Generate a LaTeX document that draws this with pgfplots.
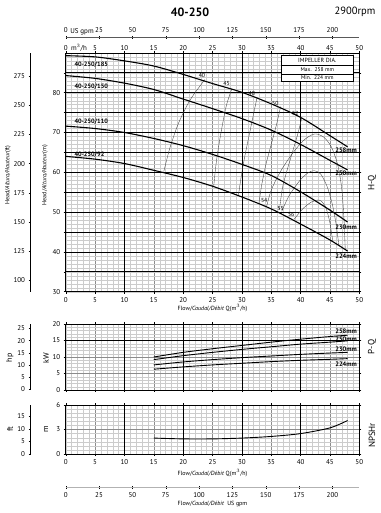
\documentclass[border=0pt]{standalone}
\usepackage{fontspec}
\setmainfont{PT Sans}
\usepackage{pgfplots}
\pgfplotsset{compat=1.18}
\definecolor{gmin}{gray}{0.80}
\definecolor{gmid}{gray}{0.55}
\definecolor{effc}{gray}{0.25}
\newcommand{\fs}[1]{\fontsize{#1}{#1}\selectfont}
\pgfplotsset{
  base/.style={scale only axis, width=293.6pt, xmin=0, xmax=50, anchor=south west,
    /pgf/number format/assume math mode=true,
    tick label style={font=\fs{7}},
    axis line style={black, line width=0.6pt},
    minor grid style={gmin, line width=0.3pt},
    major grid style={gmid, line width=0.5pt},
    grid=both,
    minor xtick={0,1,...,50},
    xtick={0,5,...,50},
    extra x ticks={10,20,30,40},
    extra x tick labels={},
    extra x tick style={grid=major, major grid style={black, line width=0.7pt}, major tick length=0pt},
    tick style={black, line width=0.4pt}, major tick length=2pt, minor tick length=0pt,
    tick align=outside, clip=true},
  sec/.style={scale only axis, anchor=south west, width=1pt, xmin=0, xmax=1,
    hide x axis, axis y line*=left, tick align=center, major tick length=3pt,
    tick style={black,line width=0.4pt}, axis line style={black,line width=0.6pt},
    tick label style={font=\fs{7}}, /pgf/number format/assume math mode=true},
  hq/.style={black, line width=1.1pt, smooth},
  pq/.style={black, line width=0.9pt, smooth},
  eff/.style={effc, line width=0.35pt, smooth},
}
\begin{document}
\begin{tikzpicture}
\useasboundingbox (0,0) rectangle (380pt,513pt);

% ---------- titles ----------
\node[font=\bfseries\fs{12}] at (190pt,501pt) {40-250};
\node[font=\fs{10.5}] at (355pt,501pt) {2900rpm};

% ---------- top gpm axis ----------
\begin{axis}[scale only axis, at={(65.7pt,475.7pt)}, anchor=north west, width=293.6pt, height=1pt,
  xmin=0, xmax=220.15, ymin=0, ymax=1, hide y axis, axis x line*=top,
  xtick={0,25,...,200}, tick align=center, major tick length=3pt,
  axis line style={gray!70!black, line width=0.6pt}, tick style={black,line width=0.4pt},
  tick label style={font=\fs{7}}, /pgf/number format/assume math mode=true]
\addplot[draw=none] coordinates {(0,0)};
\end{axis}
\node[font=\fs{7}] at (82pt,481pt) {US gpm};

% ---------- H-Q ----------
\begin{axis}[base, at={(65.7pt,221.3pt)}, height=238.8pt, ymin=30, ymax=90,
  ytick={30,40,...,80}, minor ytick={30,31,...,90},
  extra y ticks={35,40,...,85}, extra y tick labels={},
  extra y tick style={grid=major, major grid style={black, line width=0.6pt}, major tick length=2pt}]
% efficiency curves
\addplot[eff] coordinates {(23.7,83.3)(21.2,78.2)(19.2,72.3)(17.8,66.4)(17.2,63.1)(16.7,60.2)};
\addplot[eff] coordinates {(28.3,81.0)(27.4,77)(26.7,72)(26.1,67)(25.6,62)(25.2,56.4)};
\addplot[eff] coordinates {(32.6,78.9)(31.9,74)(31.2,69)(30.5,64)(29.9,59)(29.4,54.1)};
\addplot[eff] coordinates {(36.6,76.5)(35.9,72)(35.0,67)(34.1,62)(33.4,57)(32.9,52.2)};
\addplot[eff] coordinates {(40.2,73.6)(39.5,69.5)(38.6,65)(37.6,60)(36.9,56)(36.4,50.5)};
\addplot[eff] coordinates {(34.2,51.3)(35,55.5)(36.5,60)(38.5,64.5)(40.5,68)(42.3,69.6)(43.8,69)(45.2,66.5)(46.3,62)(47,56)(47.4,48)(47.6,40.6)};
\addplot[eff] coordinates {(36.8,50.2)(38,54)(39.8,57.8)(41.2,59.8)(42.3,60.4)(43.4,59.6)(44.5,56.5)(45.4,52)(46.1,46.5)(46.5,41.8)};
\addplot[eff] coordinates {(38.9,48.2)(40.3,50.7)(41.8,52.5)(43.2,53)(44.2,51.5)(44.9,48)(45.3,44.5)(45.5,42.6)};
% H-Q curves
\addplot[hq] coordinates {(0,89.3)(5,89)(10,88)(15,86.7)(20,84.6)(25,82.3)(30,80.1)(35,77.2)(40,73.8)(45,69.2)(48,66.4)};
\addplot[hq] coordinates {(0,84.3)(5,83.6)(10,82.4)(15,80.8)(20,78.4)(25,76)(30,73.5)(35,70.6)(40,67)(45,63)(48,60.6)};
\addplot[hq] coordinates {(0,71.6)(5,71)(10,70)(15,68.5)(20,66.7)(25,64.5)(30,62)(35,59.2)(40,55.1)(45,50.5)(48,47.5)};
\addplot[hq] coordinates {(0,64)(5,63.3)(10,62.2)(15,60.5)(20,58.7)(25,56.5)(30,53.8)(35,50.8)(40,47)(45,43)(48,40.2)};
% labels
\begin{scope}[font=\bfseries\fs{6.3}]
\node[anchor=west] at (axis cs:0.9,87.1) {40-250/185};
\node[anchor=west] at (axis cs:0.9,81.5) {40-250/150};
\node[anchor=west] at (axis cs:0.9,72.6) {40-250/110};
\node[anchor=west] at (axis cs:0.9,64.5) {40-250/92};
\end{scope}
\begin{scope}[font=\bfseries\fs{6.5}]
\node[anchor=east, inner sep=0.5pt] at (axis cs:49.7,65.6) {258mm};
\node[anchor=east, inner sep=0.5pt] at (axis cs:49.7,59.8) {250mm};
\node[anchor=east, inner sep=0.5pt] at (axis cs:49.7,46.3) {230mm};
\node[anchor=east, inner sep=0.5pt] at (axis cs:49.7,39.0) {224mm};
\end{scope}
\begin{scope}[font=\fs{5.8}, inner sep=0.5pt]
\node at (axis cs:23.2,84.4) {40};
\node at (axis cs:27.4,82.4) {45};
\node at (axis cs:31.7,79.9) {48};
\node at (axis cs:35.7,77.4) {50};
\node at (axis cs:39.1,74.9) {52};
\node at (axis cs:33.8,52.9) {54};
\node at (axis cs:36.6,50.8) {55};
\node at (axis cs:38.4,49.3) {56};
\end{scope}
% impeller box
\draw[black, line width=0.6pt, fill=white] (axis cs:36.8,89.3) rectangle (axis cs:48.9,82.8);
\draw[black, line width=0.4pt] (axis cs:36.8,87.0) -- (axis cs:48.9,87.0);
\draw[black, line width=0.3pt] (axis cs:36.8,84.7) -- (axis cs:48.9,84.7);
\node[font=\fs{6}] at (axis cs:42.85,88.15) {IMPELLER DIA.};
\node[font=\fs{5.5}] at (axis cs:42.85,85.85) {Max.\ \ 258\ mm};
\node[font=\fs{5.5}] at (axis cs:42.85,83.7) {Min.\ \ 224\ mm};
\end{axis}
% top m3/h labels
\begin{axis}[scale only axis, at={(65.7pt,221.3pt)}, anchor=south west, width=293.6pt, height=238.8pt,
  xmin=0, xmax=50, ymin=30, ymax=90, hide y axis, axis x line*=top, xtick={0,5,...,50},
  major tick length=0pt, axis line style={draw=none},
  tick label style={font=\fs{7}, yshift=-1.5pt}, /pgf/number format/assume math mode=true]
\addplot[draw=none] coordinates {(0,30)};
\end{axis}
\node[font=\fs{7}] at (79pt,465pt) {m$^3$/h};
\node[font=\fs{6}] at (212.5pt,205pt) {Flow/\textit{Caudal/Débit} Q(m$^3$/h)};

% left ft axis for H-Q
\begin{axis}[sec, at={(30pt,221.3pt)}, height=238.8pt, ymin=89.9, ymax=295.2, ytick={100,125,...,275}]
\addplot[draw=none] coordinates {(0,100)};
\end{axis}
\node[rotate=90, font=\fs{6}] at (8pt,338pt) {Head/\textit{Altura/Hauteur}(ft)};
\node[rotate=90, font=\fs{6}] at (45pt,338pt) {Head/\textit{Altura/Hauteur}(m)};
\node[rotate=90, font=\fs{9}] at (372pt,330pt) {H-Q};

% ---------- P-Q ----------
\begin{axis}[base, at={(65.7pt,123pt)}, height=66pt, ymin=0, ymax=20,
  ytick={0,5,...,20}, minor ytick={0,1,...,20}, xticklabels={},
  extra y ticks={15}, extra y tick labels={},
  extra y tick style={grid=major, major grid style={black, line width=0.6pt}, major tick length=2pt}]
\addplot[pq] coordinates {(15,10)(20,11.4)(25,12.5)(30,13.5)(35,14.5)(40,15.4)(45,16.2)(48,16.6)};
\addplot[pq] coordinates {(15,9.2)(20,10.4)(25,11.4)(30,12.3)(35,13.1)(40,13.9)(45,14.5)(48,14.9)};
\addplot[pq] coordinates {(15,7.6)(20,8.5)(25,9.2)(30,9.8)(35,10.3)(40,10.8)(45,11.2)(48,11.4)};
\addplot[pq] coordinates {(15,6.3)(20,7)(25,7.6)(30,8.1)(35,8.6)(40,9)(45,9.3)(48,9.5)};
\begin{scope}[font=\bfseries\fs{6.5}]
\node[anchor=east, inner sep=0.5pt] at (axis cs:49.7,17.9) {258mm};
\node[anchor=east, inner sep=0.5pt] at (axis cs:49.7,15.5) {250mm};
\node[anchor=east, inner sep=0.5pt] at (axis cs:49.7,12.4) {230mm};
\node[anchor=east, inner sep=0.5pt] at (axis cs:49.7,7.7) {224mm};
\end{scope}
\end{axis}
\begin{axis}[sec, at={(30pt,123pt)}, height=66pt, ymin=-0.3, ymax=26.8, ytick={0,5,...,25}]
\addplot[draw=none] coordinates {(0,0)};
\end{axis}
\node[rotate=90, font=\fs{8}] at (10pt,155pt) {hp};
\node[rotate=90, font=\fs{8}] at (46pt,155pt) {kW};
\node[rotate=90, font=\fs{9}] at (372pt,166pt) {P-Q};

% ---------- NPSHr ----------
\begin{axis}[base, at={(65.7pt,59pt)}, height=49pt, ymin=0, ymax=6,
  ytick={0,3,6}, minor ytick={0,0.5,...,6}]
\addplot[pq] coordinates {(15,1.95)(20,1.85)(25,1.85)(30,1.95)(35,2.15)(40,2.5)(45,3.2)(48,4.1)};
\end{axis}
\node[font=\fs{6}] at (212.5pt,40pt) {Flow/\textit{Caudal/Débit} Q(m$^3$/h)};
\begin{axis}[sec, at={(30pt,59pt)}, height=49pt, ymin=0, ymax=19.55, ytick={0,5,10,15}]
\addplot[draw=none] coordinates {(0,0)};
\end{axis}
\node[rotate=90, font=\fs{8}] at (10pt,84pt) {ft};
\node[rotate=90, font=\fs{8}] at (46pt,84pt) {m};
\node[rotate=90, font=\fs{9}] at (372pt,77.5pt) {NPSHr};

% ---------- bottom gpm axis ----------
\begin{axis}[scale only axis, at={(65.7pt,25.3pt)}, anchor=south west, width=293.6pt, height=1pt,
  xmin=0, xmax=220.15, ymin=0, ymax=1, hide y axis, axis x line*=bottom,
  xtick={0,25,...,200}, tick align=center, major tick length=3pt,
  axis line style={gray!60, line width=0.6pt}, tick style={black,line width=0.4pt},
  tick label style={font=\fs{7}}, /pgf/number format/assume math mode=true]
\addplot[draw=none] coordinates {(0,0)};
\end{axis}
\node[font=\fs{6}] at (212.5pt,9pt) {Flow/\textit{Caudal/Débit}\ \ US gpm};
\end{tikzpicture}
\end{document}
